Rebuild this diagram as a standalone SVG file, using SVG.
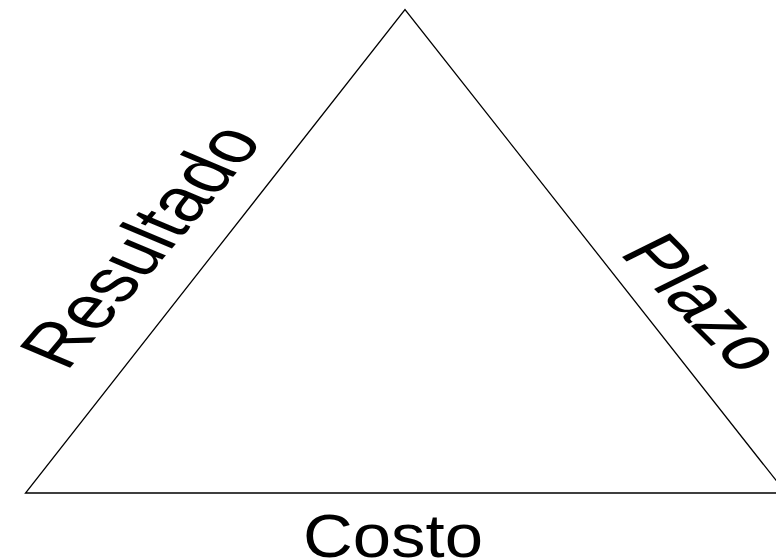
<svg xmlns="http://www.w3.org/2000/svg" width="776" height="560" viewBox="0 0 776 560">
<style>
.lbl{font-family:"Liberation Sans",Arial,sans-serif;font-size:60px;fill:#000}
.edge{fill:none;stroke:#000;stroke-width:1.3}
</style>
<rect width="776" height="560" fill="#fff"/>
<g id="connectors">
<polyline class="edge" points="786,493 405,9.5 25.5,493 776,493"/>
</g>
<g id="resultado"><text class="lbl" transform="translate(66.5,372) scale(1.42,1) rotate(-59)">Resultado</text></g>
<g id="plazo"><text class="lbl" transform="translate(618,253) scale(1.42,1) rotate(54.85)">Plazo</text></g>
<g id="costo"><text class="lbl" text-anchor="middle" style="font-size:61px" transform="translate(393,557) scale(1.13,1)">Costo</text></g>
</svg>
